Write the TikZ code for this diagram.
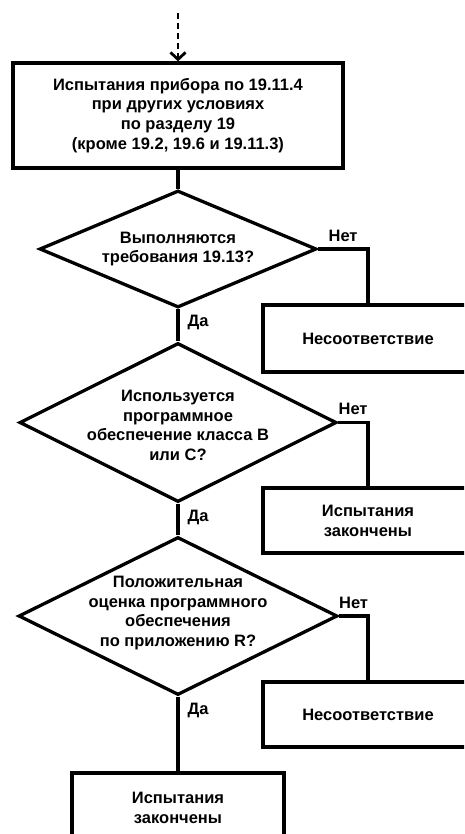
\documentclass[tikz,border=0pt]{standalone}
\usepackage{fontspec}
\setmainfont{Liberation Sans}
\usepackage{tikz}
\usetikzlibrary{shapes.geometric}
\usetikzlibrary{arrows.meta}
\tikzset{box/.style={draw, rectangle, line width=3.3pt, inner sep=2pt, align=center}}
\tikzset{decision/.style={draw, diamond, line width=3.3pt, inner sep=0pt}}
\tikzset{dtext/.style={align=center, inner sep=0pt}}
\tikzset{link/.style={line width=3.3pt}}
\tikzset{answer/.style={inner sep=1pt}}

\begin{document}
\begin{tikzpicture}[x=1pt, y=-1pt,
  font=\fontsize{16.5}{19.8}\selectfont\bfseries]
{
\useasboundingbox (0,0) rectangle (464,834);
\clip (0,0) rectangle (464,834);
\coordinate (start) at (178,13);
\node[box, minimum width=330pt, minimum height=105pt] (test) at (178,115.5)
  {Испытания прибора по 19.11.4\\при других условиях\\по разделу 19\\(кроме 19.2, 19.6 и 19.11.3)};
\node[decision, minimum width=277pt, minimum height=117pt,
  label={[dtext]center:Выполняются\\требования 19.13?}] (d1) at (178,249) {};
\node[decision, minimum width=317pt, minimum height=159pt,
  label={[dtext, yshift=-3pt]center:Используется\\программное\\обеспечение класса В\\или С?}] (d2) at (178,422.5) {};
\node[decision, minimum width=319pt, minimum height=158pt,
  label={[dtext, yshift=3pt]center:Положительная\\оценка программного\\обеспечения\\по приложению R?}] (d3) at (178,616) {};
\node[box, minimum width=210pt, minimum height=67pt] (nc1) at (368,338.5) {Несоответствие};
\node[box, minimum width=210pt, minimum height=65pt] (end1) at (368,520.5) {Испытания\\закончены};
\node[box, minimum width=210pt, minimum height=65pt] (nc2) at (368,714.5) {Несоответствие};
\node[box, minimum width=212pt, minimum height=70pt] (end2) at (178,808) {Испытания\\закончены};
%\draw (start) -- (test.north);
\draw[line width=2.2pt, dash pattern=on 6pt off 4pt, -{Straight Barb[length=7pt, width=15pt, line width=2.8pt]}] (start) -- (test.north);
\draw[link] (test.south) -- (d1.north);
\draw[link] (d1.south) -- node[answer, pos=0.4, right=7pt] {Да} (d2.north);
\draw[link] (d2.south) -- node[answer, pos=0.43, right=7pt] {Да} (d3.north);
\draw[link] (d3.south) -- node[answer, pos=0.19, right=7pt] {Да} (end2.north);
\draw[link] (d1.east) -| node[answer, pos=0.25, above=5pt] {Нет} (nc1.north);
\draw[link] (d2.east) -| node[answer, pos=0.25, above=5pt] {Нет} (end1.north);
\draw[link] (d3.east) -| node[answer, pos=0.25, above=5pt] {Нет} (nc2.north);
}
\end{tikzpicture}
\end{document}
